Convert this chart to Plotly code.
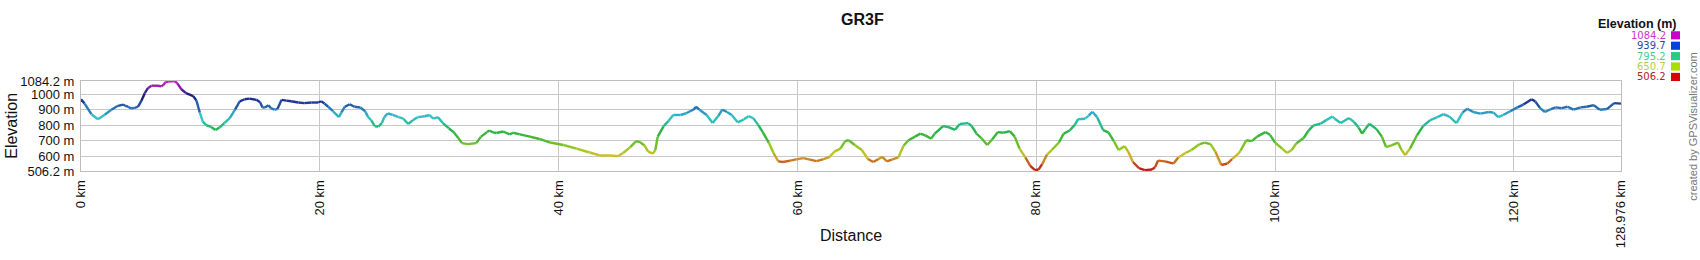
import plotly.graph_objects as go

# ---------------- data ----------------
distance_km = [
    0.0, 0.3, 0.87, 1.42, 1.98, 2.54, 3.1, 3.52, 3.7, 3.94, 4.2, 4.5, 4.78, 5.06, 5.34, 5.6, 5.9,
    6.45, 6.73, 6.9, 7.07, 7.3, 7.85, 8.07, 8.4, 8.8, 9.4, 9.67, 9.95, 10.2, 10.5, 10.9, 11.26,
    11.6, 12.0, 12.46, 12.9, 13.3, 13.7, 14.1, 14.7, 15.0, 15.2, 15.4, 15.7, 15.9, 16.2, 16.45,
    16.8, 17.2, 17.6, 18.2, 18.7, 19.3, 19.86, 20.1, 20.4, 20.7, 21.1, 21.6, 21.8, 22.1, 22.5,
    22.9, 23.4, 23.8, 24.05, 24.3, 24.6, 24.9, 25.2, 25.4, 25.7, 26.1, 26.6, 27.0, 27.4, 27.8,
    28.2, 28.8, 29.2, 29.5, 29.9, 30.3, 30.8, 31.2, 31.6, 31.9, 32.4, 33.1, 33.5, 34.0, 34.2,
    34.5, 34.8, 35.35, 35.9, 36.2, 36.75, 37.6, 38.4, 39.3, 40.4, 41.5, 42.6, 43.45, 44.3, 45.0,
    45.4, 46.0, 46.5, 46.8, 47.2, 47.5, 47.9, 48.1, 48.3, 48.8, 49.2, 49.6, 50.2, 50.7, 51.0,
    51.3, 51.5, 51.8, 52.4, 52.9, 53.4, 53.7, 54.1, 54.5, 55.0, 55.5, 55.9, 56.3, 56.7, 57.1,
    57.6, 58.0, 58.4, 58.8, 59.4, 59.9, 60.5, 61.05, 61.6, 62.2, 62.7, 63.1, 63.6, 64.0, 64.3,
    64.8, 65.4, 65.9, 66.35, 66.8, 67.1, 67.5, 67.9, 68.45, 68.9, 69.3, 69.85, 70.3, 70.7,
    71.2, 71.5, 72.2, 72.6, 73.2, 73.6, 74.3, 74.6, 75.0, 75.4, 75.9, 76.3, 76.8, 77.25, 77.8,
    78.2, 78.6, 79.1, 79.5, 79.9, 80.2, 80.5, 80.9, 81.3, 81.9, 82.3, 82.8, 83.25, 83.5, 84.1,
    84.4, 84.7, 85.1, 85.6, 86.05, 86.5, 86.9, 87.4, 87.7, 88.1, 88.6, 89.1, 89.7, 89.96, 90.2,
    90.8, 91.5, 91.9, 92.5, 93.0, 93.7, 94.1, 94.6, 95.0, 95.5, 96.0, 96.4, 96.9, 97.1, 97.6,
    98.05, 98.5, 99.2, 99.6, 100.0, 100.6, 101.0, 101.4, 101.8, 102.4, 102.8, 103.2, 103.8,
    104.3, 104.8, 105.0, 105.5, 106.2, 106.6, 107.0, 107.3, 107.55, 107.9, 108.5, 108.95,
    109.3, 109.8, 110.3, 110.6, 110.9, 111.3, 111.9, 112.4, 113.0, 113.6, 114.1, 114.6, 115.2,
    115.7, 116.1, 116.6, 117.2, 117.9, 118.3, 118.7, 119.1, 119.7, 120.3, 120.8, 121.5, 121.8,
    122.2, 122.6, 123.1, 123.5, 124.0, 124.5, 125.0, 125.6, 126.1, 126.7, 127.2, 127.8, 128.4,
    128.976,
]
elevation_m = [
    967, 939, 871, 839, 867, 900, 925, 933, 925, 919, 908, 912, 919, 958, 1006, 1038, 1054,
    1054, 1050, 1058, 1077, 1081, 1084, 1069, 1031, 1006, 987, 958, 881, 823, 800, 789, 769,
    785, 814, 846, 900, 954, 967, 971, 963, 948, 914, 914, 929, 910, 900, 904,
    963, 958, 954, 946, 942, 946, 946, 954, 939, 919, 890, 852, 881, 919, 935,
    919, 914, 890, 852, 833, 794, 791, 814, 852, 877, 866, 852, 842, 808, 833,
    852, 858, 866, 842, 852, 814, 781, 756, 718, 685, 679, 685, 727, 756, 766,
    754, 750, 760, 741, 752, 741, 727, 712, 689, 673, 650, 625, 606, 606, 602,
    622, 660, 698, 692, 670, 631, 618, 641, 727, 794, 827, 866, 866, 877, 890,
    900, 919, 900, 866, 814, 862, 900, 885, 866, 819, 837, 858, 846, 804, 756,
    689, 622, 568, 564, 573, 581, 589, 579, 570, 583, 597, 631, 650, 698, 704,
    673, 641, 583, 564, 583, 597, 568, 579, 593, 670, 704, 727, 746, 735,
    714, 746, 794, 789, 771, 808, 814, 794, 746, 718, 673, 708, 756, 752, 762,
    727, 650, 593, 539, 512, 516, 550, 612, 641, 689, 746, 766, 804, 839, 842,
    862, 887, 852, 769, 754, 698, 641, 666, 631, 564, 525, 512, 516, 531, 573,
    568, 554, 593, 622, 641, 679, 689, 679, 631, 545, 554, 583, 616, 635, 704,
    698, 727, 756, 737, 689, 650, 622, 641, 685, 718, 766, 798, 810,
    833, 856, 842, 814, 846, 823, 785, 746, 775, 810, 775, 727,
    660, 673, 689, 641, 608, 650, 737, 794, 833, 852, 871, 856, 814,
    881, 906, 885, 875, 885, 881, 852, 866, 890, 915, 933, 967, 952,
    910, 885, 904, 915, 910, 919, 900, 915, 919, 929, 900, 904, 942,
    939,
]

x_tick_vals = [0, 20, 40, 60, 80, 100, 120, 128.976]
x_tick_text = ["0 km", "20 km", "40 km", "60 km", "80 km", "100 km", "120 km", "128.976 km"]
y_tick_vals = [506.2, 600, 700, 800, 900, 1000, 1084.2]
y_tick_text = ["506.2 m", "600 m", "700 m", "800 m", "900 m", "1000 m", "1084.2 m"]

legend_values = [1084.2, 939.7, 795.2, 650.7, 506.2]
legend_text_colors = ["#cc33cc", "#2f4a9c", "#4ccc8a", "#b0d050", "#b02030"]
legend_box_colors = ["#cc00cc", "#0044dd", "#22cc88", "#aadd00", "#dd0000"]

title_text = "GR3F"

# ---------------- styling helpers ----------------
E_MIN, E_MAX = 506.2, 1084.2
COLOR_STOPS = [
    (0.00, (190, 20, 20)),
    (0.10, (200, 90, 30)),
    (0.17, (205, 190, 40)),
    (0.25, (160, 200, 30)),
    (0.35, (70, 185, 50)),
    (0.45, (40, 180, 70)),
    (0.53, (40, 185, 150)),
    (0.60, (50, 195, 205)),
    (0.68, (40, 130, 190)),
    (0.76, (30, 60, 150)),
    (0.83, (25, 30, 130)),
    (0.90, (80, 30, 150)),
    (0.95, (160, 30, 170)),
    (1.00, (205, 30, 205)),
]


def color_for(e):
    f = (e - E_MIN) / (E_MAX - E_MIN)
    f = max(0.0, min(1.0, f))
    for (f0, c0), (f1, c1) in zip(COLOR_STOPS[:-1], COLOR_STOPS[1:]):
        if f <= f1:
            t = 0 if f1 == f0 else (f - f0) / (f1 - f0)
            r, g, b = (round(a + (bb - a) * t) for a, bb in zip(c0, c1))
            return f"rgb({r},{g},{b})"
    r, g, b = COLOR_STOPS[-1][1]
    return f"rgb({r},{g},{b})"


# Plot area in pixels (figure 1700 x 260)
L, R, T, B = 81, 1621, 80.5, 180.0
PW, PH = R - L, B - T


def px(xp):
    return (xp - L) / PW


def py(yp):
    return (B - yp) / PH


FONT = "Arial, Liberation Sans, sans-serif"
WIDE = "DejaVu Sans, Arial, sans-serif"

fig = go.Figure()
for i in range(len(distance_km) - 1):
    e_mid = (elevation_m[i] + elevation_m[i + 1]) / 2
    fig.add_trace(go.Scatter(
        x=[distance_km[i], distance_km[i + 1]],
        y=[elevation_m[i], elevation_m[i + 1]],
        mode="lines",
        line=dict(color=color_for(e_mid), width=2.4),
        hoverinfo="skip",
        showlegend=False,
    ))

annotations = [
    dict(text=f"<b>{title_text}</b>", x=px(862), y=py(12), xref="paper", yref="paper",
         showarrow=False, xanchor="center", yanchor="middle",
         font=dict(size=16, color="#111", family=FONT)),
    dict(text="Elevation", x=px(12), y=py(130), xref="paper", yref="paper",
         showarrow=False, xanchor="center", yanchor="middle", textangle=-90,
         font=dict(size=16, color="#111", family=FONT)),
    dict(text="Distance", x=px(851), y=py(251), xref="paper", yref="paper",
         showarrow=False, xanchor="center", yanchor="middle",
         font=dict(size=16, color="#111", family=FONT)),
    dict(text="<b>Elevation (m)</b>", x=px(1637), y=py(17), xref="paper", yref="paper",
         showarrow=False, xanchor="center", yanchor="middle",
         font=dict(size=12.5, color="#111", family=FONT)),
    dict(text="created by GPSVisualizer.com", x=px(1693), y=py(131), xref="paper", yref="paper",
         showarrow=False, xanchor="center", yanchor="middle", textangle=-90,
         font=dict(size=11, color="#777", family=FONT)),
]

shapes = []
row_y = [30, 41.5, 53, 64.5, 76]
for v, tc, bc, yy in zip(legend_values, legend_text_colors, legend_box_colors, row_y):
    annotations.append(dict(
        text=f"{v:.1f}", x=px(1667), y=py(yy), xref="paper", yref="paper",
        showarrow=False, xanchor="right", yanchor="middle", borderpad=0,
        font=dict(size=10, color=tc, family=WIDE)))
    shapes.append(dict(type="rect", xref="paper", yref="paper",
                       x0=px(1671), x1=px(1680), y0=py(yy + 4.5), y1=py(yy - 4.5),
                       fillcolor=bc, line=dict(width=0)))

fig.update_layout(
    width=1700, height=260,
    margin=dict(l=L, r=1700 - R, t=T, b=260 - B, pad=0),
    paper_bgcolor="white", plot_bgcolor="white",
    showlegend=False,
    annotations=annotations,
    shapes=shapes,
    xaxis=dict(
        range=[0, 128.976], tickvals=x_tick_vals, ticktext=x_tick_text,
        tickangle=-90, ticks="outside", ticklen=3, tickcolor="rgba(0,0,0,0)",
        showgrid=True, gridcolor="#c8c8c8", gridwidth=1,
        showline=True, linecolor="#bdbdbd", linewidth=1, mirror=True,
        zeroline=False, tickfont=dict(size=13, color="#111", family=FONT),
    ),
    yaxis=dict(
        range=[506.2, 1084.2], tickvals=y_tick_vals, ticktext=y_tick_text,
        ticks="outside", ticklen=3, tickcolor="rgba(0,0,0,0)",
        showgrid=True, gridcolor="#c8c8c8", gridwidth=1,
        showline=True, linecolor="#bdbdbd", linewidth=1, mirror=True,
        zeroline=False, tickfont=dict(size=13, color="#111", family=FONT),
    ),
)

fig.write_html("out.html")
